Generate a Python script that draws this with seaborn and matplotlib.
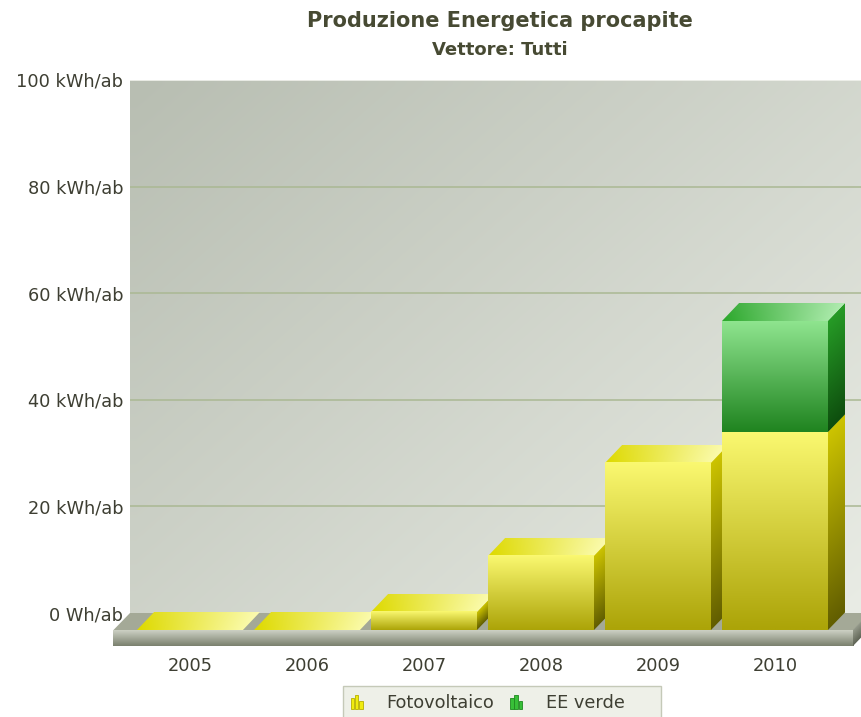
import numpy as np
import pandas as pd
import matplotlib
matplotlib.use("Agg")
import matplotlib.pyplot as plt
import seaborn as sns
from matplotlib.patches import Polygon, Rectangle, Patch
from matplotlib.transforms import Affine2D
from matplotlib.legend_handler import HandlerBase

# ---------------- data ----------------
years = ["2005", "2006", "2007", "2008", "2009", "2010"]
fotovoltaico = [0.0, 0.0, 3.4, 14.0, 31.5, 37.3]
ee_verde = [0.0, 0.0, 0.0, 0.0, 0.0, 20.8]
series_names = ["Fotovoltaico", "EE verde"]
y_ticks = [0, 20, 40, 60, 80, 100]
y_tick_labels = ["0 Wh/ab", "20 kWh/ab", "40 kWh/ab", "60 kWh/ab", "80 kWh/ab", "100 kWh/ab"]
title = "Produzione Energetica procapite"
subtitle = "Vettore: Tutti"

# ---------------- style ----------------
W, H = 861, 717
sns.set_theme(style="white")
plt.rcParams['font.family'] = ['DejaVu Sans']
TXT = "#3e3f33"
TITLE_C = "#474a33"
FS = 12.8

YEL = dict(front=((250, 248, 112), (172, 164, 8)),
           side=((205, 196, 0), (98, 94, 0)),
           top=((222, 218, 0), (250, 250, 165)),
           flat="#e8e400")
GRN = dict(front=((142, 228, 142), (32, 132, 32)),
           side=((38, 155, 38), (14, 78, 14)),
           top=((44, 168, 44), (165, 232, 165)),
           flat="#2fa52f")

fig = plt.figure(figsize=(W / 100, H / 100), dpi=100)
AX_L, AX_R, AX_T, AX_B = 130, 870, 80, 613
ax = fig.add_axes([AX_L / W, 1 - AX_B / H, (AX_R - AX_L) / W, (AX_B - AX_T) / H])

df = pd.DataFrame({"anno": years, series_names[0]: fotovoltaico, series_names[1]: ee_verde})
df["totale"] = df[series_names[0]] + df[series_names[1]]

sns.barplot(data=df, x="anno", y="totale", color=GRN["flat"], width=0.9, ax=ax, errorbar=None)
n_tot = len(ax.patches)
sns.barplot(data=df, x="anno", y=series_names[0], color=YEL["flat"], width=0.9, ax=ax, errorbar=None)
tot_patches = list(ax.patches[:n_tot])
foto_patches = list(ax.patches[n_tot:])

XL, XR = (AX_L - 207) / 117.0, (AX_R - 207) / 117.0
ax.set_xlim(XL, XR)
ax.set_ylim(0, 100)
px_x = (AX_R - AX_L) / (XR - XL)
px_y = (AX_B - AX_T) / 100.0
DDX = -17.0 / px_x
DDY = -17.5 / px_y


def c01(c):
    return np.array(c, dtype=float) / 255.0


def rgba(arr):
    a = np.ones(arr.shape[:-1] + (1,))
    return np.concatenate([arr, a], axis=-1)


def vgrad(top, bot, n=64):
    t = np.linspace(0, 1, n)[:, None]
    arr = c01(top)[None, :] * (1 - t) + c01(bot)[None, :] * t
    return rgba(np.repeat(arr[:, None, :], 2, axis=1))


def hgrad(left, right, n=64, rows=8):
    t = np.linspace(0, 1, n)[:, None]
    arr = c01(left)[None, :] * (1 - t) + c01(right)[None, :] * t
    arr = np.repeat(arr[None, :, :], rows, axis=0)
    w = np.linspace(0, 1, rows)[:, None, None]
    arr = np.clip(arr * (1 - 0.12 * w) + 0.12 * w, 0, 1)
    return rgba(arr)


def img(arr, extent, z, trans=None, origin="upper"):
    im = ax.imshow(arr, extent=extent, origin=origin, aspect="auto",
                   interpolation="bilinear", zorder=z)
    if trans is not None:
        im.set_transform(trans + ax.transData)
    im.set_clip_on(False)
    return im


# ---------------- back wall ----------------
ny, nx = 60, 60
yy, xx = np.mgrid[0:ny, 0:nx]
t = (xx / (nx - 1) * 0.55 + yy / (ny - 1) * 0.45)
bg = c01((184, 190, 178))[None, None, :] * (1 - t[..., None]) + c01((233, 236, 229))[None, None, :] * t[..., None]
bim = ax.imshow(bg, extent=(0, 1, 0, 1), transform=ax.transAxes, origin="upper",
                aspect="auto", interpolation="bilinear", zorder=0)

for v in y_ticks[1:-1]:
    ax.axhline(v, color="#aab893", lw=1.1, zorder=0.5)
ax.axhline(100, color="#f2f3ee", lw=1.2, zorder=0.6)

# ---------------- floor ----------------
TH = 16.0 / px_y
ax.add_patch(Polygon([(XL + DDX, DDY), (XR + DDX, DDY), (XR, 0), (XL, 0)], closed=True,
                     facecolor="#a4a997", edgecolor="none", zorder=1.5, clip_on=False))
img(vgrad((205, 209, 196), (122, 128, 110)), (XL + DDX, XR + DDX, DDY - TH, DDY), 1.6)
side_floor = Affine2D(np.array([[-DDX, 0, XR + DDX], [-DDY, 1, DDY], [0, 0, 1]]))
img(vgrad((150, 155, 140), (95, 100, 85)), (0, 1, -TH, 0), 1.6, trans=side_floor)

# ---------------- 3D bars ----------------
segments = []
for pt, pf in zip(tot_patches, foto_patches):
    x0 = pf.get_x()
    x1 = x0 + pf.get_width()
    yf = pf.get_height()
    yt = pt.get_height()
    pt.set_visible(False)
    pf.set_visible(False)
    segments.append((x0, x1, 0.0, yf, YEL, 2.0))
    if yt > yf:
        segments.append((x0, x1, yf, yt, GRN, 2.5))

for x0, x1, y0, y1, pal, z in segments:
    if y1 > y0:
        tr = Affine2D(np.array([[-DDX, 0, x1 + DDX], [-DDY, 1, DDY], [0, 0, 1]]))
        img(vgrad(*pal["side"]), (0, 1, y0, y1), z, trans=tr)
    tr = Affine2D(np.array([[1, -DDX, DDX], [0, -DDY, y1 + DDY], [0, 0, 1]]))
    img(hgrad(*pal["top"]), (x0, x1, 0, 1), z + 0.1, trans=tr, origin="lower")

for x0, x1, y0, y1, pal, z in segments:
    if y1 > y0:
        img(vgrad(*pal["front"]), (x0 + DDX, x1 + DDX, y0 + DDY, y1 + DDY), 3.0)

# ---------------- axes / ticks ----------------
ax.set_xlim(XL, XR)
ax.set_ylim(0, 100)
for s in ax.spines.values():
    s.set_visible(False)
ax.set_yticks(y_ticks, y_tick_labels)
ax.set_xticks([i + DDX for i in range(len(years))], years)
ax.tick_params(axis="y", length=0, pad=5, labelsize=FS, labelcolor=TXT)
ax.tick_params(axis="x", length=0, pad=32, labelsize=FS, labelcolor=TXT)
ax.set_xlabel("")
ax.set_ylabel("")

# ---------------- titles ----------------
fig.text(500 / W, 1 - 21 / H, title, ha="center", va="center", fontsize=15,
         fontweight="bold", color=TITLE_C)
fig.text(500 / W, 1 - 50 / H, subtitle, ha="center", va="center", fontsize=13,
         fontweight="bold", color=TITLE_C)


# ---------------- legend ----------------
class BarsHandler(HandlerBase):
    def create_artists(self, legend, orig_handle, xdescent, ydescent, width, height,
                       fontsize, trans):
        fc = orig_handle.get_facecolor()
        ec = orig_handle.get_edgecolor()
        arts = []
        bw = width / 3.6
        for i, h in enumerate([0.75, 1.0, 0.55]):
            r = Rectangle((-xdescent + i * bw * 1.3, -ydescent), bw, height * h,
                          facecolor=fc, edgecolor=ec, lw=0.6, transform=trans)
            arts.append(r)
        return arts


# legend box background (wider than its content, as in the original)
fig.patches.append(Rectangle((343 / W, 1 - 722 / H), (661 - 343) / W, 36 / H,
                             transform=fig.transFigure, facecolor="#eef0e8",
                             edgecolor="#c5c9b8", lw=1.0, zorder=4))

handles = [Patch(facecolor="#f0ec10", edgecolor="#b8b000"),
           Patch(facecolor="#38c038", edgecolor="#1f8a1f")]
leg = fig.legend(handles, series_names, loc="upper left",
                 bbox_to_anchor=(343 / W, 1 - 686 / H), ncol=2, fontsize=FS,
                 handler_map={Patch: BarsHandler()}, handlelength=0.65, handleheight=0.8,
                 handletextpad=1.35, columnspacing=0.9, borderpad=0.45, borderaxespad=0.0,
                 frameon=False)
leg.set_zorder(5)
for tx in leg.get_texts():
    tx.set_color(TXT)

fig.savefig("out.png", dpi=100)
